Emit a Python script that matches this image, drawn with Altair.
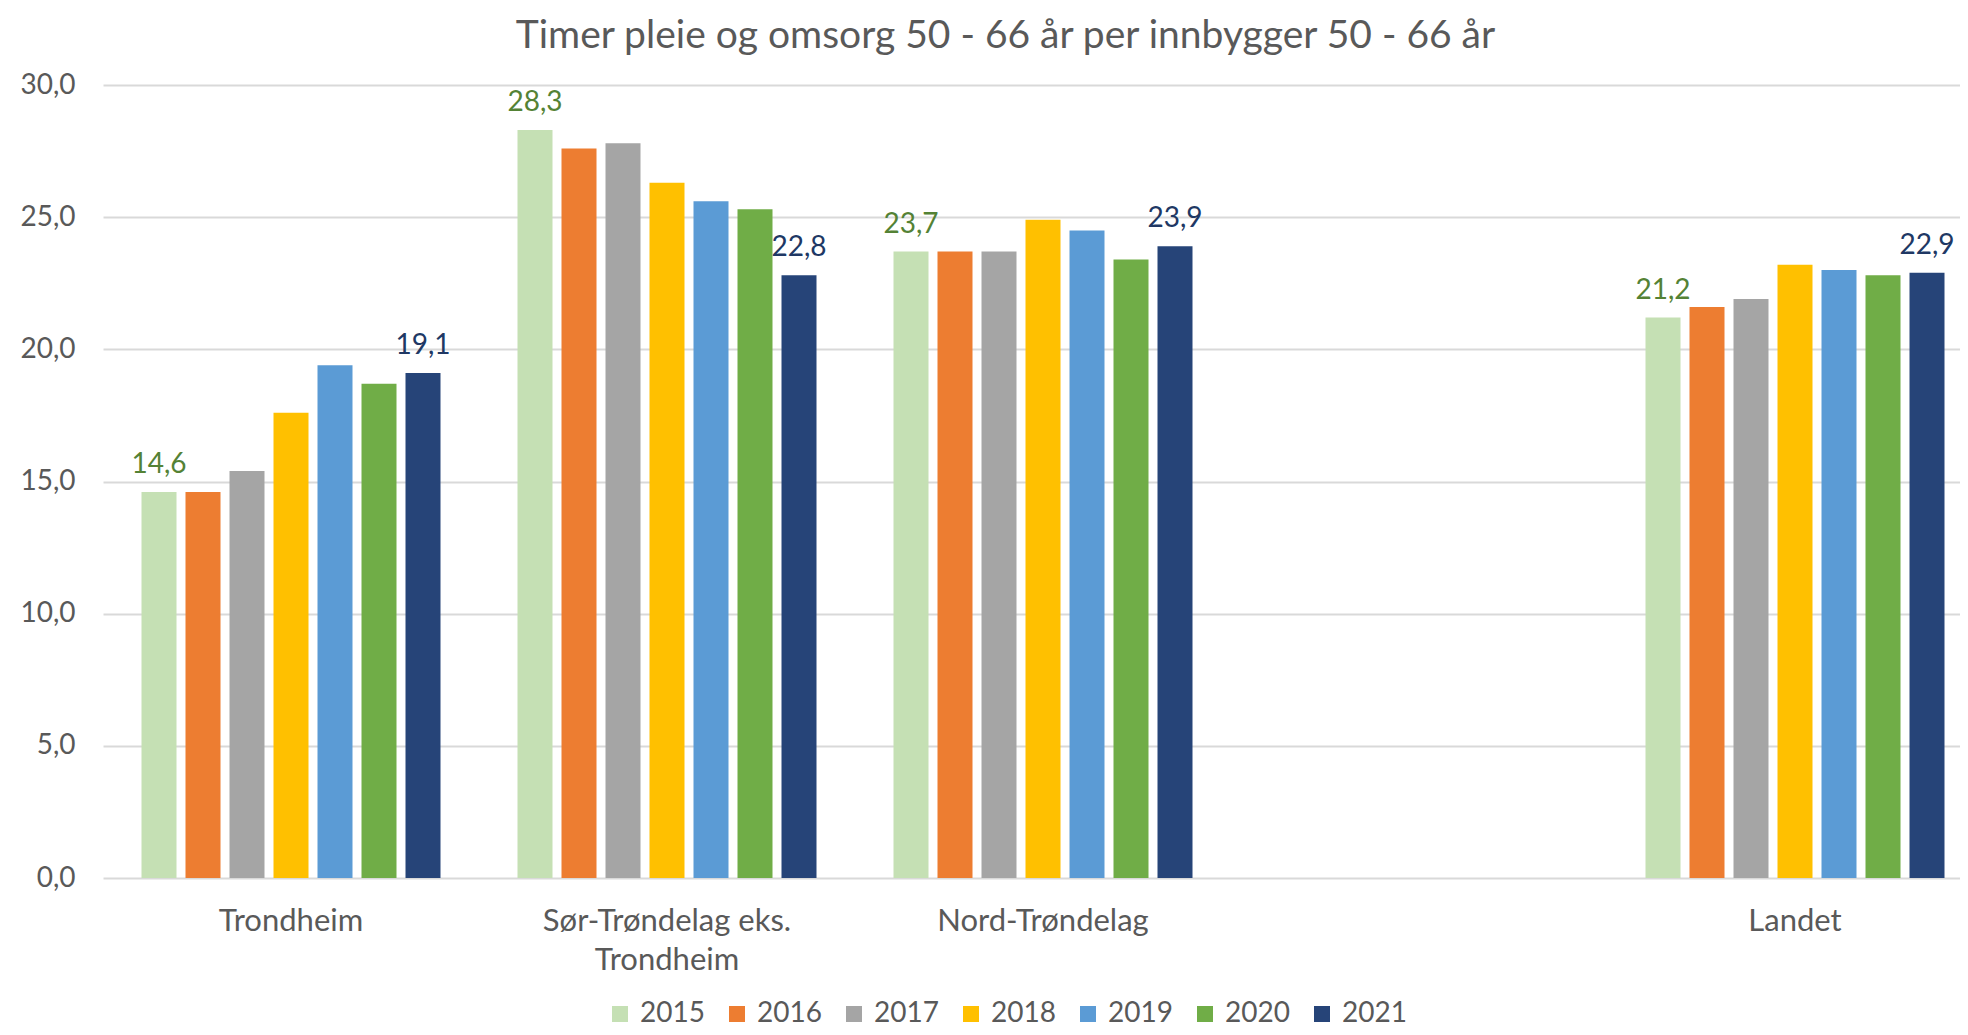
import altair as alt
import pandas as pd

# ---- data ----
categories = ["Trondheim", "Sør-Trøndelag eks. Trondheim", "Nord-Trøndelag", " ", "Landet"]
years = ["2015", "2016", "2017", "2018", "2019", "2020", "2021"]
trondheim = [14.6, 14.6, 15.4, 17.6, 19.4, 18.7, 19.1]
sor_trondelag = [28.3, 27.6, 27.8, 26.3, 25.6, 25.3, 22.8]
nord_trondelag = [23.7, 23.7, 23.7, 24.9, 24.5, 23.4, 23.9]
landet = [21.2, 21.6, 21.9, 23.2, 23.0, 22.8, 22.9]
colors = ["#C5E0B4", "#ED7D31", "#A5A5A5", "#FFC000", "#5B9BD5", "#70AD47", "#264478"]
labelled_years = ["2015", "2021"]
y_ticks = [0, 5, 10, 15, 20, 25, 30]
title = "Timer pleie og omsorg 50 - 66 år per innbygger 50 - 66 år"

rows = []
for cat, vals in [("Trondheim", trondheim),
                  ("Sør-Trøndelag eks. Trondheim", sor_trondelag),
                  ("Nord-Trøndelag", nord_trondelag),
                  ("Landet", landet)]:
    for yr, v in zip(years, vals):
        rows.append({"category": cat, "year": yr, "value": v})
df = pd.DataFrame(rows)

FONT = "Lato"
GREY = "#595959"

x_enc = alt.X("category:N",
              scale=alt.Scale(domain=categories, range=[-2, 1878], paddingInner=0, paddingOuter=0),
              axis=alt.Axis(title=None, domain=False, ticks=False, labelAngle=0, labelLimit=0,
                            labelFontSize=31, labelFont=FONT, labelColor=GREY,
                            labelPadding=28, labelLineHeight=39,
                            labelExpr="datum.label == 'Sør-Trøndelag eks. Trondheim' ? ['Sør-Trøndelag eks.', 'Trondheim'] : datum.label"))
xoff_enc = alt.XOffset("year:N", scale=alt.Scale(domain=years, paddingInner=0.2045, paddingOuter=0.875))
y_enc = alt.Y("value:Q",
              scale=alt.Scale(domain=[0, 30], nice=False, zero=True),
              axis=alt.Axis(title=None, values=y_ticks, domain=False, ticks=False,
                            grid=True, gridColor="#D9D9D9", gridWidth=2,
                            labelFontSize=28, labelFont=FONT, labelColor=GREY, labelPadding=30,
                            labelExpr="replace(format(datum.value, '.1f'), '.', ',')"))

bars = alt.Chart(df).mark_bar().encode(
    x=x_enc,
    xOffset=xoff_enc,
    y=y_enc,
    color=alt.Color("year:N", scale=alt.Scale(domain=years, range=colors),
                    legend=alt.Legend(title=None, orient="none", direction="horizontal",
                                      legendX=501, legendY=915,
                                      symbolType="square", symbolSize=256, symbolStrokeWidth=0,
                                      labelFontSize=28, labelFont=FONT, labelColor=GREY,
                                      labelOffset=6, columnPadding=18)),
)

labels = alt.Chart(df).transform_filter(
    alt.FieldOneOfPredicate(field="year", oneOf=labelled_years)
).transform_calculate(
    txt="replace(format(datum.value, '.1f'), '.', ',')",
    lc="datum.year == '2015' ? '#548235' : '#203864'",
).mark_text(fontSize=28, font=FONT, baseline="alphabetic", dy=-19).encode(
    x=x_enc,
    xOffset=xoff_enc,
    y=y_enc,
    text="txt:N",
    color=alt.Color("lc:N", scale=None),
)

chart = alt.layer(bars, labels).properties(
    width=1855,
    height=793,
    title=alt.TitleParams(text=title, fontSize=39, font=FONT, fontWeight="normal",
                          color=GREY, anchor="middle", dx=-27, offset=15),
    autosize=alt.AutoSizeParams(type="none"),
    padding={"left": 97, "top": 77, "right": 0, "bottom": 149},
).configure_view(stroke=None)

chart.save("out.html", embed_options={"renderer": "svg", "actions": False})
